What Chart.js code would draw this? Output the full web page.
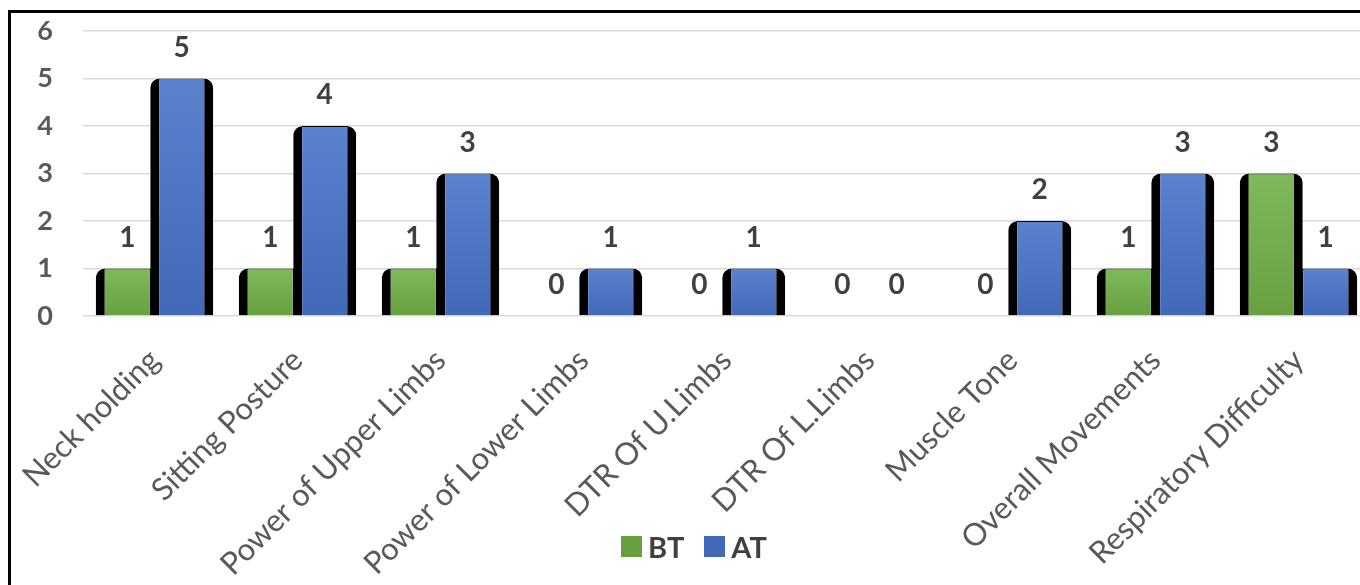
<!DOCTYPE html>
<html>
<head>
<meta charset="utf-8">
<script src="https://cdn.jsdelivr.net/npm/chart.js@4.4.1/dist/chart.umd.min.js"></script>
<style>
  html, body { margin: 0; padding: 0; background: #fff; overflow: hidden; width: 1360px; height: 585px; }
  #frame {
    position: absolute; left: 8px; top: 10px;
    width: 1400px; height: 640px;
    border-top: 3px solid #000; border-left: 3px solid #000;
  }
  #chart-wrap { position: absolute; left: 0; top: 0; width: 1360px; height: 600px; }
  #legend {
    position: absolute; left: 621px; top: 529px;
    font-family: Lato, 'Open Sans', sans-serif; font-weight: bold; font-size: 29px; color: #404040;
    display: flex; align-items: center;
  }
  #legend .item { display: flex; align-items: center; margin-right: 20px; }
  #legend .box { width: 21px; height: 21px; margin-right: 6px; }
</style>
</head>
<body>
<div id="frame">
  <div id="chart-wrap"><canvas id="chart" width="1360" height="600"></canvas></div>
</div>
<div id="legend"></div>

<script>
// ── DATA ──────────────────────────────────
const categories = [
  'Neck holding', 'Sitting Posture', 'Power of Upper Limbs',
  'Power of Lower Limbs', 'DTR Of U.Limbs', 'DTR Of L.Limbs',
  'Muscle Tone', 'Overall Movements', 'Respiratory Difficulty'
];
const btValues = [1, 1, 1, 0, 0, 0, 0, 1, 3];
const atValues = [5, 4, 3, 1, 1, 0, 2, 3, 1];
const yTicks = [0, 1, 2, 3, 4, 5, 6];

const GREEN = { top: '#7eb95b', bottom: '#67a03f' };
const BLUE  = { top: '#5b82cf', bottom: '#4169b8' };
const TEXT  = '#404040';
const FONT  = "Lato, 'Open Sans', sans-serif";

// vertical gradient for each bar, lighter on top
function barGradient(colours) {
  return (ctx) => {
    const chart = ctx.chart;
    const y = chart.scales && chart.scales.y;
    if (!y || !chart.chartArea || typeof ctx.raw !== 'number') return colours.bottom;
    const top = y.getPixelForValue(ctx.raw);
    const bottom = y.getPixelForValue(0);
    if (bottom - top < 1) return colours.bottom;
    const g = chart.ctx.createLinearGradient(0, top, 0, bottom);
    g.addColorStop(0, colours.top);
    g.addColorStop(1, colours.bottom);
    return g;
  };
}

// ── VALUE LABELS ABOVE BARS ───────────────
const valueLabels = {
  id: 'valueLabels',
  afterDatasetsDraw(chart) {
    const { ctx } = chart;
    ctx.save();
    ctx.font = `bold 28px ${FONT}`;
    ctx.fillStyle = TEXT;
    ctx.textAlign = 'center';
    ctx.textBaseline = 'middle';
    chart.data.datasets.forEach((ds, i) => {
      chart.getDatasetMeta(i).data.forEach((bar, j) => {
        ctx.fillText(String(ds.data[j]), bar.x, bar.y - 31);
      });
    });
    ctx.restore();
  }
};

const barStyle = {
  borderColor: '#000',
  borderWidth: { left: 9, right: 9, top: 1, bottom: 0 },
  borderRadius: { topLeft: 9, topRight: 9, bottomLeft: 0, bottomRight: 0 },
  borderSkipped: false,
  categoryPercentage: 0.762,
  barPercentage: 1.156
};

const chart = new Chart(document.getElementById('chart'), {
  type: 'bar',
  data: {
    labels: categories,
    datasets: [
      { label: 'BT', data: btValues, backgroundColor: barGradient(GREEN), legendColor: GREEN.bottom, ...barStyle },
      { label: 'AT', data: atValues, backgroundColor: barGradient(BLUE), legendColor: BLUE.bottom, ...barStyle }
    ]
  },
  options: {
    responsive: false,
    animation: false,
    layout: { padding: { top: 18, right: 1, bottom: 0, left: 0 } },
    plugins: {
      legend: { display: false },
      tooltip: { enabled: false }
    },
    scales: {
      x: {
        grid: { display: false },
        border: { display: false },
        ticks: {
          color: '#595959',
          font: { family: FONT, size: 31 },
          maxRotation: 45,
          minRotation: 45,
          padding: 18
        },
        afterFit: (scale) => {
          scale.height = 297;
          // rotated labels would otherwise push the plot area inwards
          scale.paddingLeft = 0;
          scale.paddingRight = 0;
        }
      },
      y: {
        min: 0,
        max: 6,
        afterBuildTicks: (scale) => { scale.ticks = yTicks.map(v => ({ value: v })); },
        // invisible tick marks push the labels left without adding top padding
        grid: { color: '#d9d9d9', lineWidth: 1.5, drawTicks: true, tickLength: 30, tickColor: 'rgba(0,0,0,0)' },
        border: { display: false },
        ticks: {
          color: '#595959',
          font: { family: FONT, size: 27, weight: 'bold' },
          padding: 0
        },
        afterFit: (scale) => { scale.width = 72; }
      }
    }
  },
  plugins: [valueLabels]
});

// ── HTML LEGEND ───────────────────────────
const legend = document.getElementById('legend');
chart.data.datasets.forEach(ds => {
  const item = document.createElement('div');
  item.className = 'item';
  item.innerHTML = `<span class="box" style="background:${ds.legendColor}"></span><span>${ds.label}</span>`;
  legend.appendChild(item);
});
</script>
</body>
</html>
